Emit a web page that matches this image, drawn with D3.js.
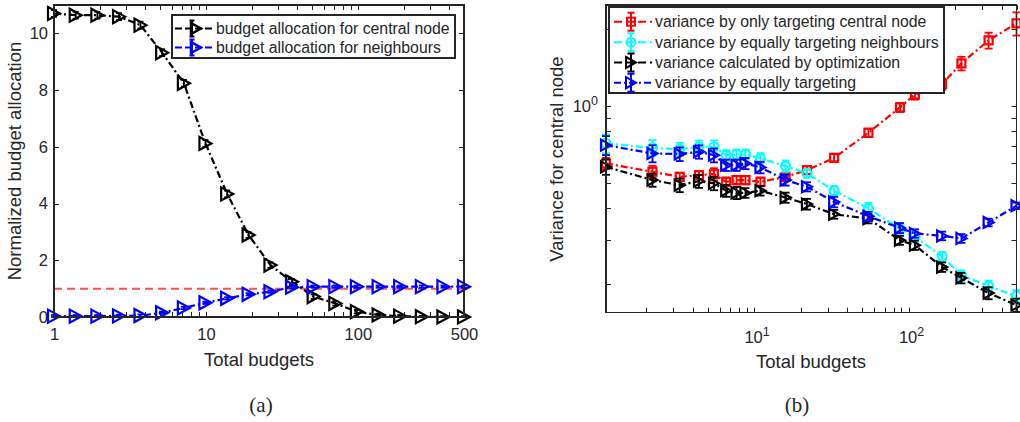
<!DOCTYPE html>
<html>
<head>
<meta charset="utf-8">
<script src="https://cdn.jsdelivr.net/npm/d3@7"></script>
<style>
  body { margin: 0; background: #fff; }
  svg { display: block; }
  text { font-family: "Liberation Sans", Arial, Helvetica, sans-serif; fill: #262626; }
</style>
</head>
<body>
<svg id="fig" width="1020" height="422"></svg>
<script>
// ---------- panel (a): budget allocation ----------
const budgetsA = [1, 1.39, 1.93, 2.68, 3.71, 5.15, 7.16, 9.93, 13.8, 19.1, 26.6, 36.9, 51.2, 71.1, 98.6, 137, 190, 264, 366, 500];
const centralAlloc = [10.70, 10.64, 10.64, 10.59, 10.29, 9.32, 8.24, 6.12, 4.34, 2.89, 1.83, 1.24, 0.72, 0.48, 0.19, 0.07, 0.03, 0.01, 0.0, 0.0];
const centralErr   = [0.12, 0.12, 0.12, 0.12, 0.12, 0.12, 0.12, 0.12, 0.12, 0.10, 0.10, 0.10, 0.08, 0.08, 0.06, 0.05, 0.04, 0.03, 0.03, 0.03];
const neighbourAlloc = [0.03, 0.03, 0.03, 0.04, 0.05, 0.15, 0.32, 0.50, 0.66, 0.80, 0.89, 1.05, 1.07, 1.07, 1.07, 1.07, 1.07, 1.07, 1.07, 1.07];
const neighbourErr   = [0.04, 0.04, 0.04, 0.04, 0.04, 0.04, 0.04, 0.04, 0.04, 0.04, 0.04, 0.04, 0.04, 0.04, 0.04, 0.04, 0.04, 0.04, 0.04, 0.04];
const refBudgets = [1, 500];
const refLevel = [1, 1];
const xTicksA = [1, 10, 100, 500];
const xMinorA = [2, 3, 4, 5, 6, 7, 8, 9, 20, 30, 40, 50, 60, 70, 80, 90, 200, 300, 400];
const yTicksA = [0, 2, 4, 6, 8, 10];
const legendA = ["budget allocation for central node", "budget allocation for neighbours"];

// ---------- panel (b): variance of the central node ----------
const budgetsB = [1.1, 2.2, 3.3, 4.4, 5.5, 6.6, 7.7, 8.8, 11, 16, 22, 33, 55, 88, 110, 165, 220, 330, 500];
const varCentralOnly = [0.596, 0.553, 0.528, 0.536, 0.541, 0.505, 0.513, 0.513, 0.505, 0.528, 0.561, 0.627, 0.786, 0.988, 1.11, 1.22, 1.47, 1.81, 2.11];
const errCentralOnly = [0.03, 0.03, 0.02, 0.02, 0.03, 0.02, 0.02, 0.02, 0.02, 0.02, 0.02, 0.02, 0.03, 0.04, 0.05, 0.06, 0.09, 0.13, 0.22];
const varNeighbours  = [0.714, 0.686, 0.678, 0.693, 0.693, 0.642, 0.646, 0.646, 0.624, 0.582, 0.545, 0.466, 0.397, 0.331, 0.307, 0.258, 0.217, 0.197, 0.180];
const errNeighbours  = [0.06, 0.05, 0.04, 0.04, 0.04, 0.03, 0.03, 0.03, 0.03, 0.03, 0.02, 0.02, 0.02, 0.015, 0.015, 0.01, 0.01, 0.01, 0.01];
const varOptimized   = [0.578, 0.513, 0.490, 0.508, 0.498, 0.466, 0.457, 0.457, 0.466, 0.438, 0.413, 0.377, 0.362, 0.298, 0.285, 0.234, 0.212, 0.185, 0.166];
const errOptimized   = [0.04, 0.03, 0.03, 0.03, 0.03, 0.025, 0.025, 0.02, 0.02, 0.02, 0.02, 0.015, 0.015, 0.012, 0.012, 0.01, 0.01, 0.01, 0.01];
const varEqual       = [0.703, 0.652, 0.649, 0.662, 0.642, 0.587, 0.587, 0.596, 0.575, 0.513, 0.483, 0.421, 0.370, 0.333, 0.317, 0.310, 0.303, 0.350, 0.407];
const errEqual       = [0.06, 0.05, 0.04, 0.04, 0.04, 0.03, 0.03, 0.03, 0.03, 0.025, 0.02, 0.02, 0.015, 0.015, 0.012, 0.012, 0.012, 0.012, 0.012];
const xTicksB = [10, 100];
const xMinorB = [2, 3, 4, 5, 6, 7, 8, 9, 20, 30, 40, 50, 60, 70, 80, 90, 200, 300, 400, 500];
const yTicksB = [1];
const yMinorB = [0.2, 0.3, 0.4, 0.5, 0.6, 0.7, 0.8, 0.9, 2];
const legendB = [
  "variance by only targeting central node",
  "variance by equally targeting neighbours",
  "variance calculated by optimization",
  "variance by equally targeting"
];

const AXIS = "#262626";
const DASHDOT = "7,3,2,3";
const svg = d3.select("#fig");

// ---------- helpers ----------
function marker(g, type, cx, cy, color, w, h, sw) {
  if (type === "tri") {
    g.append("path")
      .attr("d", `M${cx - w / 2},${cy - h / 2}L${cx + w / 2},${cy}L${cx - w / 2},${cy + h / 2}Z`)
      .attr("fill", "none").attr("stroke", color).attr("stroke-width", sw)
      .attr("stroke-linejoin", "miter");
  } else if (type === "sq") {
    g.append("rect").attr("x", cx - w / 2).attr("y", cy - h / 2).attr("width", w).attr("height", h)
      .attr("fill", "none").attr("stroke", color).attr("stroke-width", sw);
  } else {
    g.append("circle").attr("cx", cx).attr("cy", cy).attr("r", w / 2)
      .attr("fill", "none").attr("stroke", color).attr("stroke-width", sw);
  }
}

function errBar(g, cx, yTop, yBot, color, cap, sw) {
  g.append("line").attr("x1", cx).attr("x2", cx).attr("y1", yTop).attr("y2", yBot)
    .attr("stroke", color).attr("stroke-width", sw);
  [yTop, yBot].forEach(yy => g.append("line")
    .attr("x1", cx - cap / 2).attr("x2", cx + cap / 2).attr("y1", yy).attr("y2", yy)
    .attr("stroke", color).attr("stroke-width", sw));
}

function series(g, xs, ys, es, x, y, opt) {
  const line = d3.line().x((d, i) => x(xs[i])).y(d => y(d));
  g.append("path").datum(ys).attr("d", line)
    .attr("fill", "none").attr("stroke", opt.color).attr("stroke-width", 2.2)
    .attr("stroke-dasharray", opt.dash);
  ys.forEach((v, i) => {
    const cx = x(xs[i]);
    errBar(g, cx, y(v + es[i]), y(Math.max(v - es[i], y.domain()[0])), opt.color, opt.cap, 1.8);
  });
  ys.forEach((v, i) => marker(g, opt.marker, x(xs[i]), y(v), opt.color, opt.w, opt.h, 2.2));
}

function frame(g, x0, x1, y0, y1) {
  g.append("rect").attr("x", x0).attr("y", y0).attr("width", x1 - x0).attr("height", y1 - y0)
    .attr("fill", "none").attr("stroke", AXIS).attr("stroke-width", 1.2)
    .attr("shape-rendering", "crispEdges");
}

function ticksX(g, x, vals, y0, y1, len) {
  vals.forEach(v => {
    const px = Math.round(x(v)) + 0.5;
    g.append("line").attr("x1", px).attr("x2", px).attr("y1", y1).attr("y2", y1 - len)
      .attr("stroke", AXIS).attr("stroke-width", 1);
    g.append("line").attr("x1", px).attr("x2", px).attr("y1", y0).attr("y2", y0 + len)
      .attr("stroke", AXIS).attr("stroke-width", 1);
  });
}

function ticksY(g, y, vals, x0, x1, len) {
  vals.forEach(v => {
    const py = Math.round(y(v)) + 0.5;
    g.append("line").attr("x1", x0).attr("x2", x0 + len).attr("y1", py).attr("y2", py)
      .attr("stroke", AXIS).attr("stroke-width", 1);
    g.append("line").attr("x1", x1).attr("x2", x1 - len).attr("y1", py).attr("y2", py)
      .attr("stroke", AXIS).attr("stroke-width", 1);
  });
}

// ================= panel (a) =================
const xA = d3.scaleLog().domain([1, 500]).range([54, 464]);
const yA = d3.scaleLinear().domain([0, 11]).range([317, 5]);
const gA = svg.append("g");

// axes via d3-axis (labels only, ticks drawn inward below)
gA.append("g").attr("transform", "translate(0,317)")
  .call(d3.axisBottom(xA).tickValues(xTicksA).tickSize(0).tickPadding(11).tickFormat(d3.format("d")))
  .call(s => { s.select(".domain").remove(); s.selectAll("text").attr("font-size", 16.5).attr("fill", AXIS).attr("font-family", null); });
gA.append("g").attr("transform", "translate(54,0)")
  .call(d3.axisLeft(yA).tickValues(yTicksA).tickSize(0).tickPadding(6).tickFormat(d3.format("d")))
  .call(s => { s.select(".domain").remove(); s.selectAll("text").attr("font-size", 16.5).attr("fill", AXIS).attr("font-family", null); });

ticksX(gA, xA, xTicksA.concat(xMinorA), 5, 317, 5);
ticksY(gA, yA, yTicksA, 54, 464, 5);

// reference level
gA.append("path").datum(refLevel)
  .attr("d", d3.line().x((d, i) => xA(refBudgets[i])).y(d => yA(d)))
  .attr("fill", "none").attr("stroke", "#ff5252").attr("stroke-width", 2).attr("stroke-dasharray", "8,5");

series(gA, budgetsA, centralAlloc, centralErr, xA, yA, { color: "#000", dash: DASHDOT, marker: "tri", w: 12, h: 13, cap: 6 });
series(gA, budgetsA, neighbourAlloc, neighbourErr, xA, yA, { color: "#0000ff", dash: DASHDOT, marker: "tri", w: 12, h: 13, cap: 6 });

frame(gA, 54, 464, 5, 317);

gA.append("text").attr("x", 259).attr("y", 366).attr("text-anchor", "middle").attr("font-size", 18.5).text("Total budgets");
gA.append("text").attr("transform", "translate(15,161) rotate(-90)").attr("dy", "0.35em")
  .attr("text-anchor", "middle").attr("font-size", 18.5).text("Normalized budget allocation");

// legend (a)
const legA = gA.append("g");
legA.append("rect").attr("x", 172).attr("y", 15).attr("width", 283).attr("height", 43)
  .attr("fill", "#fff").attr("stroke", AXIS).attr("stroke-width", 1.2).attr("shape-rendering", "crispEdges");
[["#000", 28.5], ["#0000ff", 47.5]].forEach(([c, yy], i) => {
  legA.append("line").attr("x1", 175).attr("x2", 213).attr("y1", yy).attr("y2", yy)
    .attr("stroke", c).attr("stroke-width", 2).attr("stroke-dasharray", "7,3");
  errBar(legA, 192, yy - 8, yy + 8, c, 5, 2);
  marker(legA, "tri", 196, yy, c, 10, 11, 2.5);
  legA.append("text").attr("x", 216).attr("y", yy + 5.5).attr("font-size", 15.8).text(legendA[i]);
});

svg.append("text").attr("x", 261).attr("y", 412).attr("text-anchor", "middle")
  .attr("font-size", 21).style("font-family", "'Liberation Serif', 'DejaVu Serif', serif").text("(a)");

// ================= panel (b) =================
const xB = d3.scaleLog().domain([1.1, 500]).range([606, 1016.5]);
const yB = d3.scaleLog().domain([0.155, 2.49]).range([312.7, 5]);
const gB = svg.append("g");

ticksX(gB, xB, xTicksB.concat(xMinorB), 5, 312.7, 5);
ticksY(gB, yB, yTicksB.concat(yMinorB), 606, 1016.5, 5);

// power-of-ten tick labels
xTicksB.forEach(v => {
  const t = gB.append("text").attr("x", xB(v) + 3).attr("y", 343).attr("text-anchor", "middle").attr("font-size", 16.5);
  t.append("tspan").text("10");
  t.append("tspan").attr("dy", -7).attr("font-size", 12.5).text(String(Math.round(Math.log10(v))));
});
yTicksB.forEach(v => {
  const t = gB.append("text").attr("x", 598).attr("y", yB(v) + 6).attr("text-anchor", "end").attr("font-size", 16.5);
  t.append("tspan").text("10");
  t.append("tspan").attr("dy", -7).attr("font-size", 12.5).text(String(Math.round(Math.log10(v))));
});

const stylesB = [
  { color: "#ff0000", dash: DASHDOT, marker: "sq", w: 8, h: 8, cap: 8 },
  { color: "#00ffff", dash: DASHDOT, marker: "circ", w: 9, h: 9, cap: 8 },
  { color: "#000000", dash: DASHDOT, marker: "tri", w: 10, h: 11, cap: 8 },
  { color: "#0000ff", dash: DASHDOT, marker: "tri", w: 10, h: 11, cap: 8 }
];
series(gB, budgetsB, varCentralOnly, errCentralOnly, xB, yB, stylesB[0]);
series(gB, budgetsB, varNeighbours, errNeighbours, xB, yB, stylesB[1]);
series(gB, budgetsB, varOptimized, errOptimized, xB, yB, stylesB[2]);
series(gB, budgetsB, varEqual, errEqual, xB, yB, stylesB[3]);

frame(gB, 606, 1016.5, 5, 312.7);

gB.append("text").attr("x", 811).attr("y", 368).attr("text-anchor", "middle").attr("font-size", 18.5).text("Total budgets");
gB.append("text").attr("transform", "translate(557,159) rotate(-90)").attr("dy", "0.35em")
  .attr("text-anchor", "middle").attr("font-size", 18.5).text("Variance for central node");

// legend (b)
const legB = gB.append("g");
legB.append("rect").attr("x", 609).attr("y", 7).attr("width", 335).attr("height", 86)
  .attr("fill", "#fff").attr("stroke", AXIS).attr("stroke-width", 1.2).attr("shape-rendering", "crispEdges");
[21.7, 42.2, 62.5, 82.7].forEach((yy, i) => {
  const s = stylesB[i];
  legB.append("line").attr("x1", 614).attr("x2", 652).attr("y1", yy).attr("y2", yy)
    .attr("stroke", s.color).attr("stroke-width", 2).attr("stroke-dasharray", i === 3 ? "7,3,2,3" : "8,4");
  errBar(legB, 631, yy - 9, yy + 9, s.color, 7, 2);
  marker(legB, s.marker, 631, yy, s.color, s.w, s.h, 2);
  legB.append("text").attr("x", 655).attr("y", yy + 5.5).attr("font-size", 15.8).text(legendB[i]);
});

svg.append("text").attr("x", 797).attr("y", 412).attr("text-anchor", "middle")
  .attr("font-size", 21).style("font-family", "'Liberation Serif', 'DejaVu Serif', serif").text("(b)");
</script>
</body>
</html>
